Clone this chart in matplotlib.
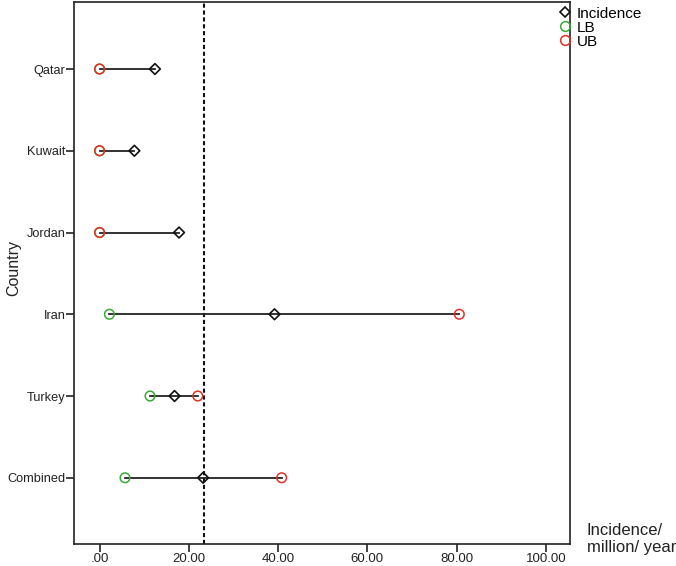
import numpy as np
import matplotlib
matplotlib.use("Agg")
import matplotlib.pyplot as plt
from matplotlib.lines import Line2D

plt.rcParams['font.family'] = ['Liberation Sans', 'DejaVu Sans']

# data
countries = ['Qatar', 'Kuwait', 'Jordan', 'Iran', 'Turkey', 'Combined']
incidence = [12.4, 7.8, 17.8, 39.2, 16.8, 23.2]
lb = [0.0, 0.0, 0.0, 2.2, 11.3, 5.7]
ub = [0.0, 0.0, 0.0, 80.6, 22.0, 40.8]
combined_mean = 23.3
xticks = [0, 20, 40, 60, 80, 100]
xticklabels = ['.00', '20.00', '40.00', '60.00', '80.00', '100.00']

fig = plt.figure(figsize=(6.76, 5.66), dpi=100)
ax = fig.add_axes([0.110, 0.0389, 0.7325, 0.9576])

y = np.arange(len(countries))

# range lines
for yi, lo, hi, inc in zip(y, lb, ub, incidence):
    lo2 = min(lo, hi, inc)
    hi2 = max(lo, hi, inc)
    ax.plot([lo2, hi2], [yi, yi], color='#222222', lw=1.3, zorder=1)

ax.axvline(combined_mean, color='#111111', lw=1.5, ls=(0, (2.0, 1.3)), zorder=0)

ax.scatter(lb, y, s=48, facecolors='none', edgecolors='#3aaa35', linewidths=1.1, zorder=3)
ax.scatter(ub, y, s=48, facecolors='none', edgecolors='#e0312b', linewidths=1.1, zorder=4)
ax.scatter(incidence, y, s=30, marker='D', facecolors='none', edgecolors='#111111',
           linewidths=1.2, zorder=5)

ax.set_xlim(-5.65, 105.3)
ax.set_ylim(5.81, -0.82)
ax.set_xticks(xticks)
ax.set_xticklabels(xticklabels)
ax.set_yticks(y)
ax.set_yticklabels(countries)
ax.tick_params(axis='both', direction='out', width=1.2, labelsize=9.5,
               colors='#222222')
ax.tick_params(axis='y', length=6, pad=0.5, labelsize=9.2)
ax.tick_params(axis='x', length=6, pad=0.5)
for sp in ax.spines.values():
    sp.set_linewidth(1.2)
    sp.set_color('#222222')

fig.text(0.021, 0.527, 'Country', rotation=90, fontsize=11.5, va='center', ha='center',
         color='#222222')
fig.text(0.868, 0.02, 'Incidence/\nmillion/ year', fontsize=12, ha='left', va='bottom',
         color='#222222', linespacing=1.15)

handles = [
    Line2D([], [], ls='none', marker='D', markersize=5.5, markerfacecolor='none',
           markeredgecolor='#111111', markeredgewidth=1.2),
    Line2D([], [], ls='none', marker='o', markersize=7, markerfacecolor='none',
           markeredgecolor='#3aaa35', markeredgewidth=1.1),
    Line2D([], [], ls='none', marker='o', markersize=7, markerfacecolor='none',
           markeredgecolor='#e0312b', markeredgewidth=1.1),
]
fig.legend(handles, ['Incidence', 'LB', 'UB'], loc='upper left',
           bbox_to_anchor=(0.815, 0.999), frameon=False, fontsize=11,
           handletextpad=0.3, handlelength=1.0, labelspacing=0.0, borderaxespad=0)

fig.savefig('out.png', dpi=100)
